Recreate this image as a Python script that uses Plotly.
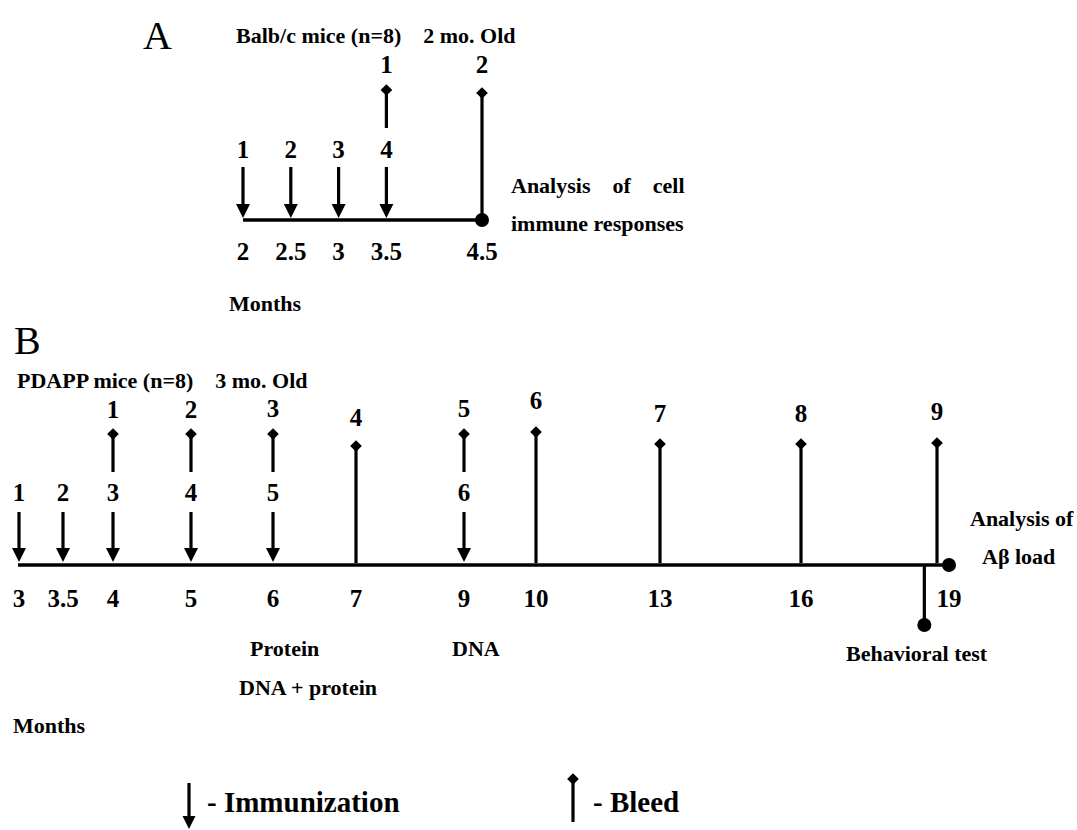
import numpy as np
import plotly.graph_objects as go

# ---------------- DATA ----------------
# Panel A: Balb/c mice
A_MONTHS = [2, 2.5, 3, 3.5, 4.5]
A_TICK_LABELS = ["2", "2.5", "3", "3.5", "4.5"]
A_IMMUNIZATION_MONTHS = [2, 2.5, 3, 3.5]
A_IMMUNIZATION_NUMS = ["1", "2", "3", "4"]
A_BLEED_MONTHS = [3.5, 4.5]
A_BLEED_NUMS = ["1", "2"]
A_END_MONTH = 4.5

# Panel B: PDAPP mice
B_MONTHS = [3, 3.5, 4, 5, 6, 7, 9, 10, 13, 16, 19]
B_TICK_LABELS = ["3", "3.5", "4", "5", "6", "7", "9", "10", "13", "16", "19"]
B_IMMUNIZATION_MONTHS = [3, 3.5, 4, 5, 6, 9]
B_IMMUNIZATION_NUMS = ["1", "2", "3", "4", "5", "6"]
B_BLEED_MONTHS = [4, 5, 6, 7, 9, 10, 13, 16, 19]
B_BLEED_NUMS = ["1", "2", "3", "4", "5", "6", "7", "8", "9"]
B_BEHAVIOR_MONTH = 18.5
B_END_MONTH = 19

# ---------------- LAYOUT / STYLE ----------------
W, H = 1077, 830
FONT = "Liberation Serif"
BLACK = "#000000"
NUM_SIZE = 25
WORD_SIZE = 22

# panel A axis (linear in months)
A_PX_PER_MONTH = 95.6
A_ORIGIN_PX = 243
A_XRANGE = [2 - A_ORIGIN_PX / A_PX_PER_MONTH, 2 + (W - A_ORIGIN_PX) / A_PX_PER_MONTH]

# panel B axis: where each month sits along the drawn (non-uniform) timeline
B_AXIS_PX = [19, 63, 113, 191, 273, 356, 464, 536, 660, 801, 949]


def bpos(m):
    return np.interp(m, B_MONTHS, B_AXIS_PX)


# vertical levels (pixels from top)
A_LINE_Y = 220
A_ARROW_TOP, A_ARROW_TIP = 167, 218
A_IMM_NUM_Y = 152
A_BLEED_SHORT_BOTTOM = 128
A_BLEED_DIAMOND_Y = [90, 93]
A_BLEED_NUM_Y = [67, 67]
A_TICK_Y = 254

B_LINE_Y = 565
B_ARROW_TOP, B_ARROW_TIP = 512, 562
B_IMM_NUM_Y = 495
B_BLEED_SHORT_BOTTOM = 472
B_BLEED_DIAMOND_Y = [434, 434, 434, 446, 434, 432, 444, 444, 443]
B_BLEED_NUM_Y = [412, 412, 411, 420, 411, 403, 416, 416, 414]
B_BLEED_NUDGE = [0, 0, 0, 0, 0, 0, 0, 0, -12]
B_BLEED_BOTTOM_LONG = 563
B_TICK_Y = 601
B_BEHAVIOR_DOT_Y = 625

HEAD = 14
STEM_W = 3.2
LINE_W = 3.6

fig = go.Figure()


def stems(xs, tops, bottoms, xaxis):
    xx, yy = [], []
    for x, t, b in zip(xs, tops, bottoms):
        xx += [x, x, None]
        yy += [t, b, None]
    fig.add_trace(go.Scatter(x=xx, y=yy, mode="lines", xaxis=xaxis, yaxis="y",
                             line=dict(color=BLACK, width=STEM_W), hoverinfo="skip"))


def markers(xs, ys, symbol, size, xaxis):
    fig.add_trace(go.Scatter(x=list(xs), y=list(ys), mode="markers", xaxis=xaxis, yaxis="y",
                             marker=dict(symbol=symbol, size=size, color=BLACK, line=dict(width=0)),
                             hoverinfo="skip"))


def texts(xs, ys, labels, xaxis, size=NUM_SIZE):
    fig.add_trace(go.Scatter(x=list(xs), y=list(ys), mode="text", xaxis=xaxis, yaxis="y",
                             text=["<b>%s</b>" % t for t in labels],
                             textposition="middle center",
                             textfont=dict(family=FONT, size=size, color=BLACK),
                             hoverinfo="skip"))


# ---------------- PANEL A ----------------
fig.add_trace(go.Scatter(x=[A_MONTHS[0], A_END_MONTH], y=[A_LINE_Y, A_LINE_Y], mode="lines",
                         xaxis="x", yaxis="y", line=dict(color=BLACK, width=LINE_W), hoverinfo="skip"))
n = len(A_IMMUNIZATION_MONTHS)
stems(A_IMMUNIZATION_MONTHS, [A_ARROW_TOP] * n, [A_ARROW_TIP - HEAD / 2] * n, "x")
markers(A_IMMUNIZATION_MONTHS, [A_ARROW_TIP] * n, "arrow-down", HEAD, "x")
texts(A_IMMUNIZATION_MONTHS, [A_IMM_NUM_Y] * n, A_IMMUNIZATION_NUMS, "x")

a_bottoms = [A_BLEED_SHORT_BOTTOM if m in A_IMMUNIZATION_MONTHS else A_LINE_Y for m in A_BLEED_MONTHS]
stems(A_BLEED_MONTHS, A_BLEED_DIAMOND_Y, a_bottoms, "x")
markers(A_BLEED_MONTHS, A_BLEED_DIAMOND_Y, "diamond", 9, "x")
texts(A_BLEED_MONTHS, A_BLEED_NUM_Y, A_BLEED_NUMS, "x")
markers([A_END_MONTH], [A_LINE_Y], "circle", 14, "x")
texts(A_MONTHS, [A_TICK_Y] * len(A_MONTHS), A_TICK_LABELS, "x")

# ---------------- PANEL B ----------------
fig.add_trace(go.Scatter(x=[bpos(B_MONTHS[0]) - 1, bpos(B_END_MONTH)], y=[B_LINE_Y, B_LINE_Y], mode="lines",
                         xaxis="x2", yaxis="y", line=dict(color=BLACK, width=LINE_W), hoverinfo="skip"))
bx_imm = [bpos(m) for m in B_IMMUNIZATION_MONTHS]
n = len(bx_imm)
stems(bx_imm, [B_ARROW_TOP] * n, [B_ARROW_TIP - HEAD / 2] * n, "x2")
markers(bx_imm, [B_ARROW_TIP] * n, "arrow-down", HEAD, "x2")
texts(bx_imm, [B_IMM_NUM_Y] * n, B_IMMUNIZATION_NUMS, "x2")

bx_bleed = [bpos(m) + d for m, d in zip(B_BLEED_MONTHS, B_BLEED_NUDGE)]
b_bottoms = [B_BLEED_SHORT_BOTTOM if m in B_IMMUNIZATION_MONTHS else B_BLEED_BOTTOM_LONG
             for m in B_BLEED_MONTHS]
stems(bx_bleed, B_BLEED_DIAMOND_Y, b_bottoms, "x2")
markers(bx_bleed, B_BLEED_DIAMOND_Y, "diamond", 9, "x2")
texts(bx_bleed, B_BLEED_NUM_Y, B_BLEED_NUMS, "x2")

bx_beh = bpos(B_BEHAVIOR_MONTH)
stems([bx_beh], [B_LINE_Y], [B_BEHAVIOR_DOT_Y], "x2")
markers([bx_beh], [B_BEHAVIOR_DOT_Y], "circle", 14, "x2")
markers([bpos(B_END_MONTH)], [B_LINE_Y], "circle", 14, "x2")
texts([bpos(m) for m in B_MONTHS], [B_TICK_Y] * len(B_MONTHS), B_TICK_LABELS, "x2")

# ---------------- LEGEND ICONS ----------------
stems([189], [783], [829 - HEAD / 2], "x2")
markers([189], [829], "arrow-down", 13, "x2")
stems([573], [779], [822], "x2")
markers([573], [779], "diamond", 9, "x2")

# ---------------- FREE TEXT ----------------
NB = "\u00a0"


def note(x, y, text, size=WORD_SIZE, anchor="left", bold=True):
    fig.add_annotation(x=x, y=y, xref="x2", yref="y", showarrow=False,
                       text=("<b>%s</b>" % text) if bold else text,
                       xanchor=anchor, yanchor="middle",
                       font=dict(family=FONT, size=size, color=BLACK))


note(157, 35, "A", size=40, anchor="center", bold=False)
note(234, 35, "Balb/c mice (n=8)" + NB * 4 + "2 mo. Old")
note(509, 185, "Analysis" + NB * 4 + "of" + NB * 4 + "cell")
note(509, 223, "immune responses")
note(227, 303, "Months")

note(27, 340, "B", size=40, anchor="center", bold=False)
note(15, 380, "PDAPP mice (n=8)" + NB * 4 + "3 mo. Old")
note(284, 648, "Protein", anchor="center")
note(308, 687, "DNA + protein", anchor="center")
note(476, 648, "DNA", anchor="center")
note(917, 653, "Behavioral test", anchor="center")
note(1022, 518, "Analysis of", anchor="center")
note(1018, 556, "A\u03b2 load", anchor="center")
note(11, 725, "Months")

note(205, 802, "- Immunization", size=29)
note(591, 802, "- Bleed", size=29)

fig.update_layout(
    width=W, height=H,
    margin=dict(l=0, r=0, t=0, b=0),
    paper_bgcolor="white", plot_bgcolor="white",
    showlegend=False,
    xaxis=dict(range=A_XRANGE, visible=False, domain=[0, 1], fixedrange=True),
    xaxis2=dict(range=[0, W], visible=False, overlaying="x", anchor="y", fixedrange=True),
    yaxis=dict(range=[H, 0], visible=False, domain=[0, 1], fixedrange=True),
)

# let the figure fill the page exactly (no default body margin / scrollbars)
fig.write_html("out.html",
               config={"displayModeBar": False},
               post_script="document.body.style.margin='0px';document.body.style.overflow='hidden';")
